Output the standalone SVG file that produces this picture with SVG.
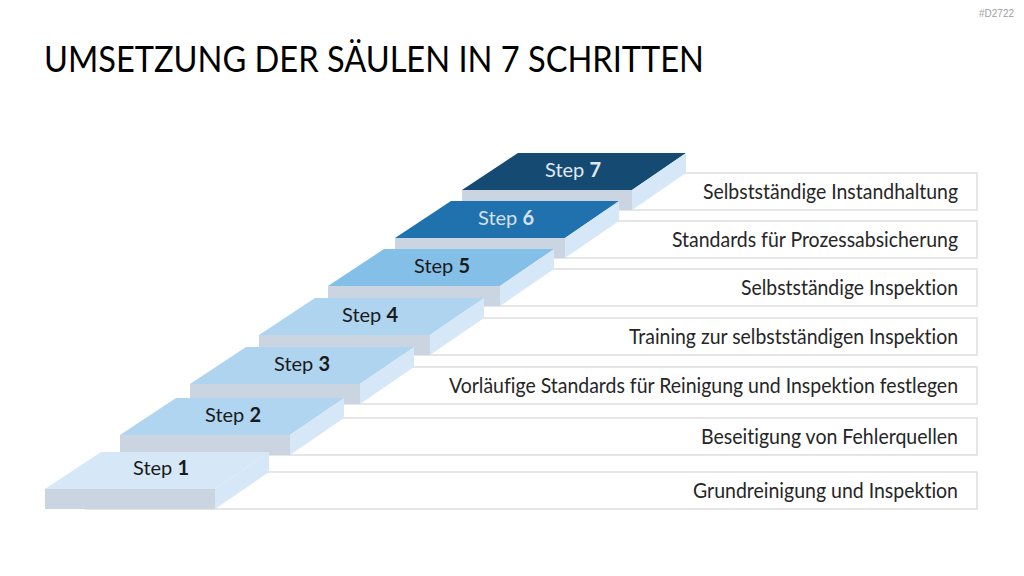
<svg xmlns="http://www.w3.org/2000/svg" width="1024" height="576" viewBox="0 0 1024 576">
<style>
text{font-variant-ligatures:none}
.box{fill:#fff;stroke:#d9d9d9;stroke-width:1.3}
.lbl{font-family:Lato,"Open Sans","Liberation Sans",sans-serif;font-size:21px;fill:#262626;text-anchor:end}
.st{font-family:Lato,"Open Sans","Liberation Sans",sans-serif;font-size:20px;fill:#1a1a1a;text-anchor:middle}
.st tspan.b{font-weight:bold}
.front{fill:#cbd5e1}
.side{fill:#d6e8f7}
</style>
<rect width="1024" height="576" fill="#fff"/>
<text x="1014" y="17" font-family="Liberation Sans,sans-serif" font-size="10" fill="#a0a0a0" text-anchor="end">#D2722</text>
<text x="44" y="72" font-family="Lato,'Open Sans','Liberation Sans',sans-serif" font-size="37" fill="#000" textLength="660" lengthAdjust="spacingAndGlyphs">UMSETZUNG DER SÄULEN IN 7 SCHRITTEN</text>

<g id="boxes">
<g id="box7"><rect class="box" x="502" y="173" width="475" height="37"/><text class="lbl" x="958" y="199" textLength="255" lengthAdjust="spacingAndGlyphs">Selbstständige Instandhaltung</text></g>
<g id="box6"><rect class="box" x="435" y="221" width="542" height="37"/><text class="lbl" x="958" y="247" textLength="286" lengthAdjust="spacingAndGlyphs">Standards für Prozessabsicherung</text></g>
<g id="box5"><rect class="box" x="368" y="269" width="609" height="37"/><text class="lbl" x="958" y="295" textLength="217" lengthAdjust="spacingAndGlyphs">Selbstständige Inspektion</text></g>
<g id="box4"><rect class="box" x="299" y="318" width="678" height="37"/><text class="lbl" x="958" y="344" textLength="329" lengthAdjust="spacingAndGlyphs">Training zur selbstständigen Inspektion</text></g>
<g id="box3"><rect class="box" x="230" y="367" width="747" height="37"/><text class="lbl" x="958" y="393" textLength="509" lengthAdjust="spacingAndGlyphs">Vorläufige Standards für Reinigung und Inspektion festlegen</text></g>
<g id="box2"><rect class="box" x="160" y="418" width="817" height="37"/><text class="lbl" x="958" y="444" textLength="257" lengthAdjust="spacingAndGlyphs">Beseitigung von Fehlerquellen</text></g>
<g id="box1"><rect class="box" x="85" y="472" width="892" height="37"/><text class="lbl" x="958" y="498" textLength="265" lengthAdjust="spacingAndGlyphs">Grundreinigung und Inspektion</text></g>
</g>

<g id="step7">
<polygon fill="#154a72" points="462,190 518,153 686,153 632,190"/>
<rect class="front" x="462" y="190" width="170" height="20"/>
<polygon class="side" points="632,190 686,153 686,173 632,210"/>
<text class="st" x="573" y="177" style="fill:#e0e8f0">Step <tspan class="b">7</tspan></text>
</g>
<g id="step6">
<polygon fill="#1f72ad" points="395,238 451,201 619,201 565,238"/>
<rect class="front" x="395" y="238" width="170" height="20"/>
<polygon class="side" points="565,238 619,201 619,221 565,258"/>
<text class="st" x="506" y="225" style="fill:#d5e0ec">Step <tspan class="b">6</tspan></text>
</g>
<g id="step5">
<polygon fill="#84bfe8" points="328,286 384,249 554,249 500,286"/>
<rect class="front" x="328" y="286" width="172" height="20"/>
<polygon class="side" points="500,286 554,249 554,269 500,306"/>
<text class="st" x="442" y="273">Step <tspan class="b">5</tspan></text>
</g>
<g id="step4">
<polygon fill="#aed4f0" points="259,335 315,298 484,298 430,335"/>
<rect class="front" x="259" y="335" width="171" height="20"/>
<polygon class="side" points="430,335 484,298 484,318 430,355"/>
<text class="st" x="370" y="322">Step <tspan class="b">4</tspan></text>
</g>
<g id="step3">
<polygon fill="#aed4f0" points="190,384 246,347 414,347 360,384"/>
<rect class="front" x="190" y="384" width="170" height="20"/>
<polygon class="side" points="360,384 414,347 414,367 360,404"/>
<text class="st" x="302" y="371">Step <tspan class="b">3</tspan></text>
</g>
<g id="step2">
<polygon fill="#b0d5f1" points="120,435 176,398 344,398 290,435"/>
<rect class="front" x="120" y="435" width="170" height="20"/>
<polygon class="side" points="290,435 344,398 344,418 290,455"/>
<text class="st" x="233" y="422">Step <tspan class="b">2</tspan></text>
</g>
<g id="step1">
<polygon fill="#d6e8f7" points="45,489 101,452 269,452 215,489"/>
<rect class="front" x="45" y="489" width="170" height="20"/>
<polygon class="side" points="215,489 269,452 269,472 215,509"/>
<text class="st" x="161" y="475">Step <tspan class="b">1</tspan></text>
</g>
<g id="connectors"/>
</svg>
